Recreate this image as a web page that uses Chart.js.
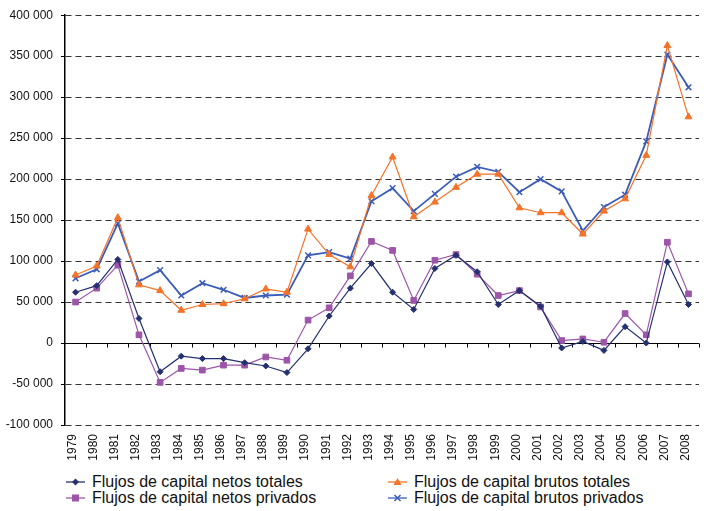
<!DOCTYPE html>
<html>
<head>
<meta charset="utf-8">
<script src="https://cdn.jsdelivr.net/npm/chart.js@4"></script>
<style>
  html, body { margin: 0; padding: 0; background: #fff; overflow: hidden; }
  #wrap { position: relative; width: 712px; height: 470px; }
  #legend { position: absolute; left: 0; top: 473px; width: 704px; height: 38px;
            font-family: "Liberation Sans", Arial, sans-serif;
            font-size: 16px; color: #111; }
  .item { position: absolute; height: 18px; line-height: 18px; white-space: nowrap; }
  .item svg { position: absolute; left: 0; top: 2px; }
  .item span { position: absolute; left: 26px; top: 0; }
</style>
</head>
<body>
<div id="wrap"><canvas id="chart" width="712" height="470"></canvas></div>
<div id="legend"></div>
<script>
var years = ['1979','1980','1981','1982','1983','1984','1985','1986','1987','1988','1989','1990','1991','1992','1993','1994','1995','1996','1997','1998','1999','2000','2001','2002','2003','2004','2005','2006','2007','2008'];

var netosTotales = [62000, 70000, 102000, 30000, -35000, -16000, -19000, -19000, -24000, -28000, -36000, -7000, 33000, 67000, 97000, 62000, 41000, 91000, 107000, 87000, 47000, 64000, 45000, -6000, 2000, -9000, 20000, 0, 99000, 47000];
var brutosTotales = [83000, 94000, 153000, 71000, 64000, 40000, 47000, 48000, 54000, 66000, 62000, 139000, 108000, 93000, 180000, 227000, 154000, 172000, 190000, 206000, 206000, 165000, 159000, 159000, 133000, 161000, 176000, 229000, 363000, 276000];
var netosPrivados = [50000, 67000, 95000, 10000, -48000, -31000, -33000, -27000, -27000, -17000, -21000, 28000, 43000, 82000, 124000, 113000, 52000, 101000, 108000, 84000, 58000, 64000, 44000, 3000, 5000, 1000, 36000, 10000, 123000, 60000];
var brutosPrivados = [79000, 90000, 146000, 75000, 89000, 58000, 73000, 65000, 55000, 58000, 59000, 107000, 111000, 103000, 173000, 189000, 161000, 182000, 203000, 215000, 209000, 184000, 200000, 185000, 137000, 166000, 181000, 246000, 352000, 312000];

var seriesNames = ['Flujos de capital netos totales', 'Flujos de capital brutos totales', 'Flujos de capital netos privados', 'Flujos de capital brutos privados'];
var seriesColors = ['#243070', '#F47328', '#9C55A8', '#3B5CB8'];

function fmt(v) {
    return String(v).replace(/\B(?=(\d{3})+(?!\d))/g, ' ');
}

// zero line with little tick marks between categories
var zeroTicks = {
    id: 'zeroTicks',
    beforeDatasetsDraw: function(chart) {
        var x = chart.scales.x, y = chart.scales.y, ctx = chart.ctx;
        var y0 = Math.round(y.getPixelForValue(0)) + 0.5;
        ctx.save();
        ctx.strokeStyle = '#000';
        ctx.lineWidth = 1;
        ctx.setLineDash([]);
        ctx.beginPath();
        ctx.moveTo(x.left, y0);
        ctx.lineTo(x.right, y0);
        var half = (x.getPixelForValue(1) - x.getPixelForValue(0)) / 2;
        for (var i = 0; i < years.length; i++) {
            var px = Math.round(x.getPixelForValue(i) + half) + 0.5;
            ctx.moveTo(px, y0);
            ctx.lineTo(px, y0 + 4);
        }
        ctx.stroke();
        ctx.restore();
    }
};

var ds = [
    {data: netosTotales, pointStyle: 'rectRot', pointRadius: 3, borderWidth: 1.2},
    {data: brutosTotales, pointStyle: 'triangle', pointRadius: 4, borderWidth: 1.2},
    {data: netosPrivados, pointStyle: 'rect', pointRadius: 4, borderWidth: 1.2},
    {data: brutosPrivados, pointStyle: 'crossRot', pointRadius: 4, borderWidth: 1.8}
];
for (var i = 0; i < ds.length; i++) {
    ds[i].label = seriesNames[i];
    ds[i].borderColor = seriesColors[i];
    ds[i].backgroundColor = seriesColors[i];
    ds[i].pointBackgroundColor = seriesColors[i];
    ds[i].pointBorderColor = seriesColors[i];
    ds[i].pointBorderWidth = i == 3 ? 1.5 : 1;
    ds[i].fill = false;
    ds[i].tension = 0;
}

var ctx = document.getElementById('chart');
var lineChart = new Chart(ctx, {
    type: 'line',
    data: { labels: years, datasets: ds },
    plugins: [zeroTicks],
    options: {
        responsive: false,
        animation: false,
        layout: { padding: { top: 14, right: 3, left: 0, bottom: 0 } },
        scales: {
            x: {
                offset: true,
                grid: { display: false, drawTicks: false },
                border: { display: false },
                ticks: {
                    minRotation: 90, maxRotation: 90, autoSkip: false, padding: 9,
                    labelOffset: -3,
                    color: '#111',
                    font: { family: '"Liberation Sans", Arial, sans-serif', size: 12 }
                },
                afterFit: function(scale) { scale.height = 45; }
            },
            y: {
                min: -100000, max: 400000,
                ticks: {
                    stepSize: 50000, padding: 8, color: '#111',
                    font: { family: '"Liberation Sans", Arial, sans-serif', size: 12 },
                    callback: function(v) { return fmt(v); }
                },
                grid: {
                    color: function(c) { return c.tick && c.tick.value === 0 ? 'rgba(0,0,0,0)' : '#333'; },
                    tickColor: '#000', tickLength: 4, lineWidth: 1, tickBorderDash: []
                },
                border: { display: true, color: '#000', width: 1.5, dash: [6, 4] },
                afterFit: function(scale) { scale.width = 65; }
            }
        },
        plugins: {
            legend: { display: false },
            tooltip: { enabled: false }
        }
    }
});

// legend in two columns, same order as the chart's series
var legend = document.getElementById('legend');
var cols = [66, 388];
function markerSvg(style, color) {
    var m = '';
    if (style == 'rectRot') m = '<polygon points="9.5,3.5 13,7 9.5,10.5 6,7" fill="' + color + '"/>';
    if (style == 'triangle') m = '<polygon points="9.5,3 13.5,10 5.5,10" fill="' + color + '"/>';
    if (style == 'rect') m = '<rect x="6" y="3.5" width="7" height="7" fill="' + color + '"/>';
    if (style == 'crossRot') m = '<path d="M6.5,4 L12.5,10 M12.5,4 L6.5,10" stroke="' + color + '" stroke-width="1.5"/>';
    return '<svg width="19" height="14"><line x1="0" y1="7" x2="19" y2="7" stroke="' + color + '" stroke-width="1.3"/>' + m + '</svg>';
}
for (var k = 0; k < ds.length; k++) {
    var div = document.createElement('div');
    div.className = 'item';
    div.style.left = cols[k % 2] + 'px';
    div.style.top = (Math.floor(k / 2) * 15.5) + 'px';
    div.innerHTML = markerSvg(ds[k].pointStyle, seriesColors[k]) + '<span>' + seriesNames[k] + '</span>';
    legend.appendChild(div);
}
</script>
</body>
</html>
